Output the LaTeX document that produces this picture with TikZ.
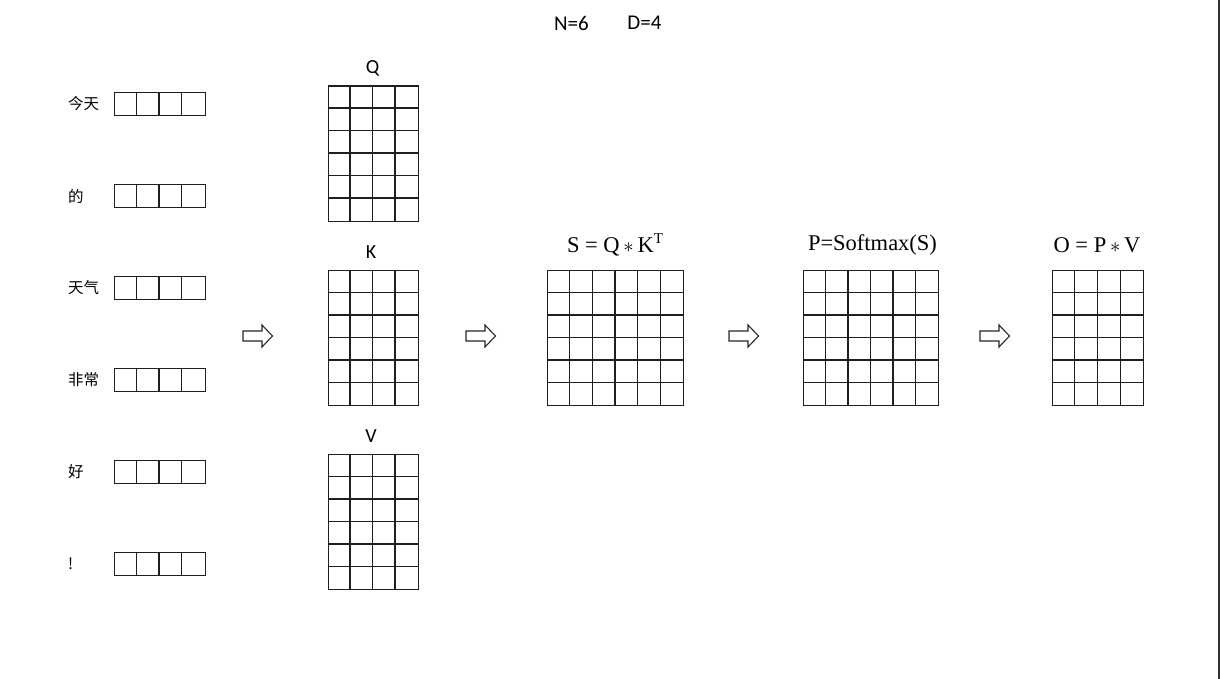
\documentclass[tikz,border=0pt]{standalone}
\usepackage{fontspec}
\setmainfont{Latin Modern Roman}
\newfontfamily\calfont{Carlito}
\newfontfamily\serfont{Liberation Serif}
\newfontfamily\cjkfont{Noto Sans CJK SC}
\begin{document}
\begin{tikzpicture}[x=1pt,y=-1pt,
  cellline/.style={line width=1.4pt,draw=black!88,line cap=square},
  matbox/.style={draw=black!88,line width=1.4pt,inner sep=0pt,anchor=north west},
  lbl/.style={inner sep=0pt,font=\calfont\fontsize{20}{20}\selectfont},
  mlbl/.style={inner sep=0pt,font=\serfont\fontsize{22.5}{22.5}\selectfont},
  tok/.style={inner sep=0pt,anchor=west,font=\cjkfont\fontsize{15.5}{16}\selectfont},
  blockarrow/.style={draw=black!85,line width=1.1pt,fill=white,line join=miter}]
\useasboundingbox (0,0) rectangle (1220,679);
\fill[white] (0,0) rectangle (1220,679);
\draw[black!80,line width=1.5pt] (1219,0) -- (1219,679);

% grid helper: x0 y0 cols rows width height
\newcommand\gridmat[6]{%
  \foreach \i in {1,...,\numexpr#3-1\relax}
    \draw[cellline] ({#1+\i*#5/#3},#2) -- ({#1+\i*#5/#3},{#2+#6});
  \ifnum#4>1
  \foreach \j in {1,...,\numexpr#4-1\relax}
    \draw[cellline] (#1,{#2+\j*#6/#4}) -- ({#1+#5},{#2+\j*#6/#4});
  \fi
}
\newcommand\hollowarrow[3]{% name, x0, yc
  \draw[blockarrow] (#2,#3-5) -- (#2+19,#3-5) -- (#2+19,#3-11) -- (#2+29.5,#3)
     -- (#2+19,#3+11) -- (#2+19,#3+5) -- (#2,#3+5) -- cycle;
  \coordinate (#1) at (#2+15,#3);
}
\newcommand\mult{\,$\ast$\,}

% title
\node[lbl,font=\calfont\fontsize{21}{21}\selectfont] (N) at (571.5,23) {N=6};
\node[lbl,font=\calfont\fontsize{21}{21}\selectfont] (D) at (644.5,23) {D=4};

% tokens
\foreach \t/\yy/\nm in {今天/104/t1, 的/196/t2, 天气/288/t3, 非常/380/t4, 好/472/t5, !/564/t6}{
  \node[tok] (\nm) at (68,\yy) {\t};
  \node[matbox,anchor=west,minimum width=91pt,minimum height=23pt] (\nm b) at (113.5,\yy) {};
  \gridmat{113.5}{\yy-11.5}{4}{1}{91}{23}
}

% Q K V
\node[matbox,minimum width=90pt,minimum height=135pt] (Q) at (327.5,85.5) {};
\gridmat{327.5}{85.5}{4}{6}{90}{135}
\node[lbl] (Ql) at (372.5,68) {Q};
\node[matbox,minimum width=90pt,minimum height=135pt] (K) at (327.5,270) {};
\gridmat{327.5}{270}{4}{6}{90}{135}
\node[lbl] (Kl) at (371,252) {K};
\node[matbox,minimum width=90pt,minimum height=135pt] (V) at (327.5,454) {};
\gridmat{327.5}{454}{4}{6}{90}{135}
\node[lbl] (Vl) at (371,436) {V};

% S
\node[matbox,minimum width=136pt,minimum height=135pt] (S) at (547,270) {};
\gridmat{547}{270}{6}{6}{136}{135}
\node[mlbl] (Sl) at (615,245) {S = Q\mult K\raisebox{0.42em}{\fontsize{15}{15}\selectfont T}};

% P
\node[matbox,minimum width=135pt,minimum height=135pt] (P) at (803,270) {};
\gridmat{803}{270}{6}{6}{135}{135}
\node[mlbl] (Pl) at (872.5,245) {P=Softmax(S)};

% O
\node[matbox,minimum width=91pt,minimum height=135pt] (O) at (1052,270) {};
\gridmat{1052}{270}{4}{6}{91}{135}
\node[mlbl] (Ol) at (1097,245) {O = P\mult V};

% arrows
\hollowarrow{a1}{243}{336}
\hollowarrow{a2}{466}{336}
\hollowarrow{a3}{729}{336}
\hollowarrow{a4}{980}{336}
\end{tikzpicture}
\end{document}
